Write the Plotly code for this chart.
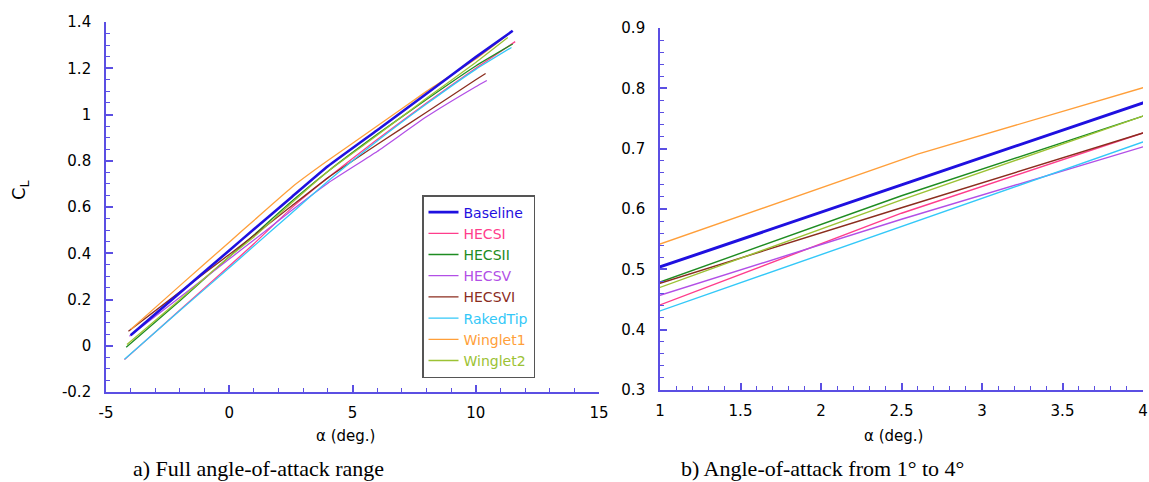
import plotly.graph_objects as go

# ---------------- data ----------------
baseline_alpha = [-4.0, -2, 0, 1, 2.5, 4, 6, 8, 10, 11.5]
baseline_cl    = [0.045, 0.229, 0.412, 0.504, 0.640, 0.776, 0.932, 1.090, 1.248, 1.362]

hecsi_alpha = [-4.25, -2, 0, 1, 2.5, 4, 6, 8, 10, 11.6]
hecsi_cl    = [-0.060, 0.155, 0.345, 0.441, 0.593, 0.726, 0.892, 1.050, 1.200, 1.315]

hecsii_alpha = [-4.18, -2, 0, 1, 2.5, 4, 6, 8, 10, 11.5]
hecsii_cl    = [-0.006, 0.195, 0.385, 0.479, 0.622, 0.754, 0.914, 1.065, 1.210, 1.305]

hecsv_alpha = [-4.05, -2, 0, 1, 2.5, 4, 6, 8, 10, 10.45]
hecsv_cl    = [0.041, 0.210, 0.375, 0.457, 0.583, 0.703, 0.840, 0.990, 1.120, 1.147]

hecsvi_alpha = [-4.09, -2, 0, 1, 2.5, 4, 6, 8, 10, 10.4]
hecsvi_cl    = [0.063, 0.233, 0.395, 0.477, 0.602, 0.726, 0.870, 1.010, 1.150, 1.177]

rakedtip_alpha = [-4.25, -2, 0, 1, 2.5, 4, 6, 8, 10, 11.45]
rakedtip_cl    = [-0.058, 0.152, 0.337, 0.431, 0.571, 0.711, 0.885, 1.045, 1.195, 1.290]

winglet1_alpha = [-4.0, -2, 0, 1, 2.6, 4, 6, 8, 10, 11.3]
winglet1_cl    = [0.070, 0.260, 0.448, 0.542, 0.691, 0.801, 0.950, 1.100, 1.240, 1.345]

winglet2_alpha = [-4.15, -2, 0, 1, 2.5, 4, 6, 8, 10, 11.3]
winglet2_cl    = [0.005, 0.200, 0.385, 0.470, 0.615, 0.754, 0.910, 1.070, 1.225, 1.333]

series_names = ["Baseline", "HECSI", "HECSII", "HECSV", "HECSVI", "RakedTip", "Winglet1", "Winglet2"]

left_xtick_vals = [-5, 0, 5, 10, 15]
left_xtick_text = ["-5", "0", "5", "10", "15"]
left_ytick_vals = [-0.2, 0, 0.2, 0.4, 0.6, 0.8, 1.0, 1.2, 1.4]
left_ytick_text = ["-0.2", "0", "0.2", "0.4", "0.6", "0.8", "1", "1.2", "1.4"]
right_xtick_vals = [1, 1.5, 2, 2.5, 3, 3.5, 4]
right_xtick_text = ["1", "1.5", "2", "2.5", "3", "3.5", "4"]
right_ytick_vals = [0.3, 0.4, 0.5, 0.6, 0.7, 0.8, 0.9]
right_ytick_text = ["0.3", "0.4", "0.5", "0.6", "0.7", "0.8", "0.9"]

# ---------------- styling ----------------
W, H = 1149, 482
AX = "#5b4fe3"
SANS = "DejaVu Sans, Verdana, sans-serif"
SERIF = "Liberation Serif, Times New Roman, serif"
colors = {
    "Baseline": "#1f10e0",
    "HECSI": "#ff3d8c",
    "HECSII": "#1e8c22",
    "HECSV": "#b24fe6",
    "HECSVI": "#8b2d1e",
    "RakedTip": "#33c8f8",
    "Winglet1": "#ff9f3a",
    "Winglet2": "#9cc234",
}
data = {
    "Baseline": (baseline_alpha, baseline_cl),
    "HECSI": (hecsi_alpha, hecsi_cl),
    "HECSII": (hecsii_alpha, hecsii_cl),
    "HECSV": (hecsv_alpha, hecsv_cl),
    "HECSVI": (hecsvi_alpha, hecsvi_cl),
    "RakedTip": (rakedtip_alpha, rakedtip_cl),
    "Winglet1": (winglet1_alpha, winglet1_cl),
    "Winglet2": (winglet2_alpha, winglet2_cl),
}

fig = go.Figure()
order = ["HECSI", "HECSII", "HECSV", "HECSVI", "RakedTip", "Winglet1", "Winglet2", "Baseline"]
for name in order:
    a, c = data[name]
    col = colors[name]
    wl = 2.6 if name == "Baseline" else 1.3
    wr = 3.0 if name == "Baseline" else 1.4
    fig.add_trace(go.Scatter(
        x=a, y=c, mode="lines", line=dict(color=col, width=wl, shape="spline", smoothing=0.4),
        name=f'<span style="color:{col}">{name}</span>',
        legendrank=series_names.index(name) + 1,
        xaxis="x", yaxis="y"))
    fig.add_trace(go.Scatter(
        x=a, y=c, mode="lines", line=dict(color=col, width=wr),
        showlegend=False, xaxis="x2", yaxis="y2"))

tickfont = dict(family=SANS, size=15, color="black")


def ax(rng, vals, text, minor_dtick, domain, anchor, standoff):
    return dict(
        range=rng, domain=domain, anchor=anchor, automargin=False,
        tickmode="array", tickvals=vals, ticktext=text,
        showline=True, linecolor=AX, linewidth=1.6,
        ticks="inside", ticklen=7, tickwidth=1.5, tickcolor=AX,
        minor=dict(ticks="inside", ticklen=4, tickwidth=1.2, tickcolor=AX,
                   dtick=minor_dtick, tick0=rng[0], showgrid=False),
        showgrid=False, zeroline=False, tickfont=tickfont,
        ticklabelstandoff=standoff,
    )


xl = [106 / W, 599 / W]
xr = [660 / W, 1143 / W]
yl = [1 - 392 / H, 1 - 22 / H]
yr = [1 - 390 / H, 1 - 28 / H]

fig.update_layout(
    width=W, height=H,
    margin=dict(l=0, r=0, t=0, b=0, pad=0, autoexpand=False),
    paper_bgcolor="white", plot_bgcolor="white",
    xaxis=ax([-5, 15], left_xtick_vals, left_xtick_text, 1, xl, "y", 6),
    yaxis=ax([-0.2, 1.4], left_ytick_vals, left_ytick_text, 0.05, yl, "x", 10),
    xaxis2=ax([1, 4], right_xtick_vals, right_xtick_text, 0.1, xr, "y2", 6),
    yaxis2=ax([0.3, 0.9], right_ytick_vals, right_ytick_text, 0.02, yr, "x2", 10),
    legend=dict(
        x=422 / W, y=1 - 195 / H, xanchor="left", yanchor="top",
        bgcolor="white", bordercolor="#555555", borderwidth=1.5,
        font=dict(family=SANS, size=14, color="black"),
        itemwidth=30, tracegroupgap=0, traceorder="normal",
    ),
    showlegend=True,
)


def note(text, x, y, font, angle=0):
    fig.add_annotation(text=text, x=x / W, y=1 - y / H, xref="paper", yref="paper",
                       xanchor="center", yanchor="middle", showarrow=False,
                       textangle=angle, font=font)


note("C<sub>L</sub>", 20, 190, dict(family=SANS, size=18, color="black"), -90)
note("α (deg.)", 345, 436, dict(family=SANS, size=15, color="black"))
note("α (deg.)", 893, 436, dict(family=SANS, size=15, color="black"))
note("a) Full angle-of-attack range", 258, 468, dict(family=SERIF, size=22, color="black"))
note("b) Angle-of-attack from 1° to 4°", 822, 468, dict(family=SERIF, size=22, color="black"))

fig.write_html(
    "out.html",
    config={"displayModeBar": False},
    post_script="document.body.style.margin='0';document.body.style.padding='0';"
                "document.body.style.overflow='hidden';",
)
